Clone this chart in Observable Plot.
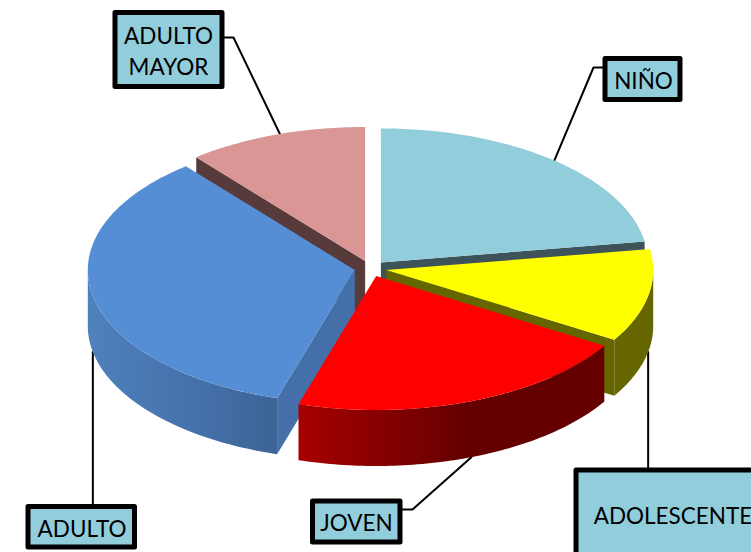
<!DOCTYPE html>
<html>
<head>
<meta charset="utf-8">
<style>
html,body{margin:0;padding:0;background:#fff;overflow:hidden;width:751px;height:552px}
svg{display:block;overflow:hidden}
</style>
<script src="https://cdn.jsdelivr.net/npm/d3@7"></script>
<script src="https://cdn.jsdelivr.net/npm/@observablehq/plot@0.6"></script>
</head>
<body>
<div id="chart"></div>
<script>
const categories = ["NIÑO", "ADOLESCENTE", "JOVEN", "ADULTO", "ADULTO MAYOR"];
const values = [22.5, 11.2, 21, 34.4, 10.9];
const topColors = ["#92CDDC", "#FFFF00", "#FF0000", "#558ED5", "#D99694"];
const faceColors = ["#3D5359", "#666600", "#660000", "#446FA8", "#573B3A"];
const wallColors = ["#3D5359", "#666600", "url(#redWall)", "url(#blueWall)", "#573B3A"];
const labelLines = ["NIÑO", "ADOLESCENTE", "JOVEN", "ADULTO", "ADULTO\nMAYOR"];

// Layout of the tilted pie and of the callout boxes
const W = 751, H = 552;
const CX = 370, CY = 268, RX = 267, RY = 134, DEPTH = 56, EXPLODE = 16;
const boxLeft = [605, 576, 312.5, 28, 115];
const boxRight = [680, 775, 400, 134.5, 222];
const boxTop = [58.5, 470, 501, 506.5, 12.5];
const boxBottom = [99.5, 575, 542, 547, 86.5];
const textX = [643, 672.5, 356, 81.5, 168];
const textY = [78.5, 513.5, 520.5, 526.5, 49];
const vertical = [false, true, false, true, false];
const elbowX = [593, 0, 412, 0, 233];
const elbowY = [67, 468, 509, 504, 37];
const startX = [605, 0, 400, 0, 222];
const startY = [67, 470, 509, 506, 37];
const anchorShift = [0, 0, 0, 0, 1];

const rad = d => d * Math.PI / 180;
const arcs = d3.pie().sort(null).value(d => d)(values);

const slices = arcs.map((a, i) => {
  const s = a.startAngle * 180 / Math.PI, e = a.endAngle * 180 / Math.PI, m = (s + e) / 2;
  const ax = CX + EXPLODE * Math.sin(rad(m));
  const ay = CY - EXPLODE * 0.5 * Math.cos(rad(m));
  const pt = t => ({x: ax + RX * Math.sin(rad(t)), y: ay - RY * Math.cos(rad(t))});
  const drop = p => ({x: p.x, y: p.y + DEPTH});
  return {i, s, e, m, ax, ay, pt, drop};
});

function arcPts(sl, from, to) {
  const n = Math.max(1, Math.ceil(Math.abs(to - from)));
  return d3.range(n + 1).map(k => sl.pt(from + (to - from) * k / n));
}

const polygons = [];
[...slices].sort((a, b) => a.ay - b.ay).forEach(sl => {
  const apex = {x: sl.ax, y: sl.ay};
  // visible radial cut faces
  [[sl.s, Math.sin(rad(sl.s))], [sl.e, -Math.sin(rad(sl.e))]].forEach(([t, north]) => {
    if (north < -0.01) {
      const p = sl.pt(t);
      polygons.push({fill: faceColors[sl.i], pts: [apex, p, sl.drop(p), sl.drop(apex)]});
    }
  });
  // outer wall where the rim faces the viewer
  const from = Math.max(sl.s, 90), to = Math.min(sl.e, 270);
  if (to > from) {
    const upper = arcPts(sl, from, to);
    polygons.push({fill: wallColors[sl.i], pts: [...upper, ...upper.slice().reverse().map(sl.drop)]});
  }
  // top face
  polygons.push({fill: topColors[sl.i], pts: [apex, ...arcPts(sl, sl.s, sl.e)]});
});

// Leader lines run from the callout to the rim at the slice's middle angle
const leaders = slices.map(sl => {
  const t = sl.m + anchorShift[sl.i];
  const p = sl.pt(t);
  const end = Math.cos(rad(t)) < 0 ? sl.drop(p) : p;
  const v = vertical[sl.i];
  return [
    {x: v ? end.x : startX[sl.i], y: startY[sl.i]},
    {x: v ? end.x : elbowX[sl.i], y: elbowY[sl.i]},
    {x: end.x, y: end.y}
  ];
});

const boxes = categories.map((c, i) => ({
  c, x1: boxLeft[i], x2: boxRight[i], y1: boxTop[i], y2: boxBottom[i],
  tx: textX[i], ty: textY[i], label: labelLines[i]
}));

const gradients = () => {
  const defs = d3.create("svg:defs");
  const add = (id, x1, x2, stops) => {
    const g = defs.append("linearGradient").attr("id", id)
      .attr("gradientUnits", "userSpaceOnUse")
      .attr("x1", x1).attr("x2", x2).attr("y1", 0).attr("y2", 0);
    stops.forEach(([o, c]) => g.append("stop").attr("offset", o).attr("stop-color", c));
  };
  add("redWall", 300, 604, [[0, "#A60000"], [0.55, "#640000"], [1, "#660000"]]);
  add("blueWall", 88, 278, [[0, "#4F81BD"], [0.5, "#4673AD"], [1, "#3D6395"]]);
  return defs.node();
};

const chart = Plot.plot({
  width: W, height: H,
  margin: 0,
  style: {background: "#fff", overflow: "hidden"},
  x: {domain: [0, W], range: [0, W], axis: null},
  y: {domain: [0, H], range: [0, H], axis: null},
  marks: [
    gradients,
    ...leaders.map(l => Plot.line(l, {x: "x", y: "y", stroke: "#000", strokeWidth: 2})),
    ...polygons.map(p => Plot.line(p.pts, {x: "x", y: "y", fill: p.fill, stroke: "none"})),
    Plot.rect(boxes, {x1: "x1", x2: "x2", y1: "y1", y2: "y2", fill: "#92CDDC", stroke: "#000", strokeWidth: 5, strokeLinejoin: "round", inset: 0}),
    Plot.text(boxes, {x: "tx", y: "ty", text: "label", fill: "#000", fontSize: 22.5, fontFamily: "Lato", lineHeight: 1.38})
  ]
});
document.getElementById("chart").appendChild(chart);
</script>
</body>
</html>
